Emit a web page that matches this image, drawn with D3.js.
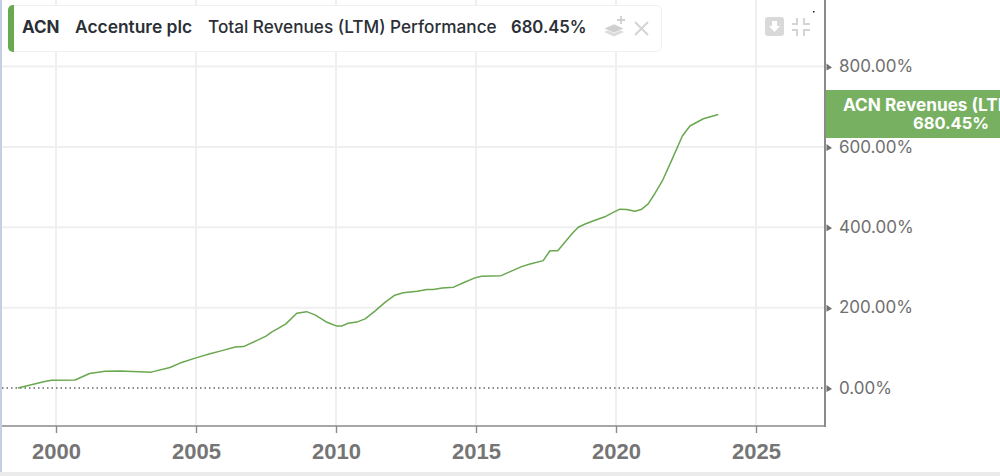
<!DOCTYPE html>
<html><head><meta charset="utf-8">
<style>html,body{margin:0;padding:0;background:#fff;overflow:hidden}svg{display:block}text{font-family:Inter,"Noto Sans",sans-serif}</style>
<script src="https://d3js.org/d3.v7.min.js"></script></head>
<body><svg id="c" width="1000" height="476"></svg>
<script>
const years=[1998.64,1999.6,1999.85,2000.68,2001.2,2001.75,2002.3,2003.4,2004.07,2004.43,2005,2005.5,2005.93,2006.4,2006.7,2007.2,2007.5,2007.7,2008.2,2008.6,2008.95,2009.25,2009.68,2010.03,2010.2,2010.43,2010.74,2011.04,2011.4,2011.75,2012.1,2012.4,2012.9,2013.25,2013.47,2013.8,2014.2,2014.55,2014.96,2015.2,2015.9,2016.2,2016.63,2016.93,2017.4,2017.64,2017.92,2018.42,2018.65,2018.9,2019.2,2019.6,2019.9,2020.14,2020.38,2020.68,2020.92,2021.15,2021.39,2021.67,2021.99,2022.37,2022.64,2023.12,2023.65];
const values=[0,16,19,20,36,41.5,42.5,39.5,51,62,75,85,93,102,103,119,129,139,159,186,190,182,163.5,154,154,161,164,172,192,213,231,237,241,245,245,249,251,262,274,278,279.5,289,302,308.5,317,341.6,341.6,383,400,408,416,426,437,445,444,440,445,458,484,517.5,567,627,652,670,680.45];
const yearTicks=[2000,2005,2010,2015,2020,2025];
const pctTicks=[0,200,400,600,800];
const headerParts=[["ACN",700,22,17],["Accenture plc",600,75,17.4],["Total Revenues (LTM) Performance",500,208,17.2],["680.45%",600,511,16.7]];
const endLabel=["ACN Revenues (LTM)","680.45%"];

const svg=d3.select("#c");
const x=d3.scaleLinear().domain([2000,2025]).range([56,756]);
const y=d3.scaleLinear().domain([0,800]).range([388,66.5]);
const left=2,right=825,bottom=426;

svg.append("rect").attr("x",0).attr("y",0).attr("width",2).attr("height",472).attr("fill","#c3cfe2");
svg.append("rect").attr("x",0).attr("y",472).attr("width",1000).attr("height",4).attr("fill","#ebebeb");

// grid
const grid=svg.append("g").attr("stroke","#efefef").attr("stroke-width",2);
grid.selectAll("line.v").data(yearTicks).join("line").attr("class","v")
 .attr("x1",d=>x(d)).attr("x2",d=>x(d)).attr("y1",0).attr("y2",bottom);
grid.selectAll("line.h").data(pctTicks.filter(d=>d>0)).join("line").attr("class","h")
 .attr("x1",left).attr("x2",right).attr("y1",d=>y(d)).attr("y2",d=>y(d));

// zero line
svg.append("line").attr("x1",left).attr("x2",right).attr("y1",y(0)).attr("y2",y(0))
 .attr("stroke","#666").attr("stroke-width",1.3).attr("stroke-dasharray","1.5 3");

// series
svg.append("path").datum(years.map((d,i)=>[d,values[i]])).attr("fill","none")
 .attr("stroke","#69a84f").attr("stroke-width",1.5).attr("stroke-linejoin","round")
 .attr("d",d3.line().x(d=>x(d[0])).y(d=>y(d[1])).curve(d3.curveLinear));

// x axis
const ax=svg.append("g").attr("transform",`translate(0,${bottom})`)
 .call(d3.axisBottom(x).tickValues(yearTicks).tickFormat(d3.format("d")).tickSize(7).tickSizeOuter(0));
ax.select(".domain").attr("stroke","#8a8a8a").attr("stroke-width",1.6).attr("d",`M${left},0H${right}`);
ax.selectAll(".tick line").attr("stroke","#8a8a8a").attr("stroke-width",1.4);
ax.selectAll(".tick text").attr("y",33).attr("dy",0).attr("fill","#757575")
 .style("font-family","'Liberation Sans'").style("font-size","22px").style("font-weight",700);

// y axis
const ay=svg.append("g").attr("transform",`translate(${right},0)`)
 .call(d3.axisRight(y).tickValues(pctTicks).tickFormat(d=>d3.format(".2f")(d)+"%").tickSize(0));
ay.select(".domain").attr("stroke","#8a8a8a").attr("stroke-width",2).attr("d",`M0,0V${bottom+1}`);
ay.selectAll(".tick text").attr("x",14).attr("dy","0.31em").attr("fill","#6f6f6f")
 .style("font-family","Inter").style("font-size","17px").style("font-weight",400);
ay.selectAll(".tick").append("path").attr("d","M1.5,-3.5L7,0.5L1.5,3.5Z").attr("fill","#707070");

// end label
svg.append("rect").attr("x",826).attr("y",90).attr("width",174).attr("height",48).attr("fill","#78b061");
const lab=svg.append("g").attr("fill","#fff").attr("font-weight",700);
lab.append("text").attr("x",843).attr("y",111).attr("font-size",17.2).text(endLabel[0]);
lab.append("text").attr("x",913).attr("y",129).attr("font-size",16.5).text(endLabel[1]);

// header card
svg.append("rect").attr("x",8.5).attr("y",5.5).attr("width",653).attr("height",46).attr("rx",5)
 .attr("fill","#fff").attr("stroke","#f0f0f0");
svg.append("path").attr("d","M14,5H13A5,5 0 0 0 8,10V47A5,5 0 0 0 13,52H14Z").attr("fill","#69aa50");
svg.selectAll("text.h").data(headerParts).join("text").attr("class","h")
 .attr("x",d=>d[2]).attr("y",32.5).attr("font-weight",d=>d[1]).attr("font-size",d=>d[3]).attr("fill","#2b2f36").text(d=>d[0]);

// layers icon, close icon
const ic=svg.append("g");
ic.append("path").attr("d","M604,32L614,27.5L624,32L614,36.5Z").attr("fill","#dcdcdc");
ic.append("path").attr("d","M604,28.5L614,24L624,28.5L614,33Z").attr("fill","#cfcfcf").attr("stroke","#fff").attr("stroke-width",.6);
ic.append("path").attr("d","M621,16V24M617,20H625").attr("stroke","#d0d0d0").attr("stroke-width",1.8);
ic.append("path").attr("d","M635,22L648,35M648,22L635,35").attr("stroke","#d4d4d4").attr("stroke-width",2);

// toolbar icons
ic.append("rect").attr("x",765).attr("y",17).attr("width",19).attr("height",19).attr("rx",3).attr("fill","#d9d9d9");
ic.append("path").attr("d","M772,21H777V26H780L774.5,32L769,26H772Z").attr("fill","#fff");
ic.append("path").attr("d","M792,24H797V18 M804,18V24H810 M792,30H797V36 M804,36V30H810").attr("fill","none").attr("stroke","#d4d4d4").attr("stroke-width",2);
ic.append("rect").attr("x",813).attr("y",11).attr("width",1.5).attr("height",1.5).attr("fill","#222");
</script></body></html>
